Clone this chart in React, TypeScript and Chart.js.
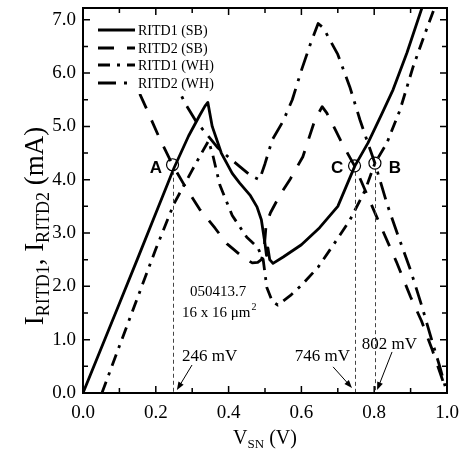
import React, { useEffect, useRef } from "react";
import { Chart, registerables } from "chart.js";
Chart.register(...registerables);

const SERIF = "'Liberation Serif', 'Times New Roman', serif";
const SANS = "'Liberation Sans', Arial, sans-serif";

// ---- data ----
const seriesNames = ["RITD1 (SB)", "RITD2 (SB)", "RITD1 (WH)", "RITD2 (WH)"];

const ritd1SB_V = [0, 0.05, 0.1, 0.15, 0.2, 0.25, 0.29, 0.32, 0.335, 0.343, 0.355, 0.38, 0.41, 0.43, 0.46, 0.478, 0.49, 0.5, 0.504, 0.508, 0.513, 0.522, 0.55, 0.6, 0.65, 0.7, 0.747, 0.783, 0.82, 0.852, 0.89, 0.935];
const ritd1SB_I = [0, 0.84, 1.68, 2.52, 3.37, 4.22, 4.82, 5.2, 5.38, 5.45, 5.0, 4.5, 4.12, 3.94, 3.7, 3.49, 3.25, 2.8, 2.58, 2.72, 2.5, 2.43, 2.55, 2.78, 3.1, 3.5, 4.26, 4.69, 5.22, 5.69, 6.38, 7.3];

const ritd2SB_V = [0.09, 0.13, 0.17, 0.212, 0.246, 0.28, 0.32, 0.363, 0.395, 0.43, 0.45, 0.465, 0.48, 0.49, 0.497, 0.503, 0.515, 0.54, 0.57, 0.604, 0.637, 0.657, 0.67, 0.69, 0.711, 0.746, 0.786, 0.825, 0.861, 0.9, 0.93, 0.96, 0.985, 1.0];
const ritd2SB_I = [6.6, 6.0, 5.4, 4.75, 4.28, 3.88, 3.45, 3.09, 2.8, 2.6, 2.5, 2.44, 2.45, 2.5, 2.65, 3.15, 3.38, 3.7, 4.02, 4.43, 5.12, 5.37, 5.25, 4.98, 4.69, 4.26, 3.63, 3.02, 2.46, 1.8, 1.35, 0.8, 0.3, 0];

const ritd1WH_V = [0.052, 0.1, 0.15, 0.2, 0.25, 0.3, 0.33, 0.345, 0.357, 0.376, 0.41, 0.45, 0.48, 0.495, 0.505, 0.52, 0.535, 0.57, 0.6, 0.646, 0.7, 0.733, 0.775, 0.802, 0.835, 0.871, 0.907, 0.94, 0.97];
const ritd1WH_I = [0, 0.88, 1.79, 2.7, 3.55, 4.18, 4.55, 4.73, 4.45, 3.9, 3.33, 2.92, 2.73, 2.5, 1.98, 1.72, 1.65, 1.83, 2.02, 2.36, 2.9, 3.24, 3.8, 4.31, 4.69, 5.31, 6.12, 6.75, 7.3];

const ritd2WH_V = [0.24, 0.28, 0.31, 0.34, 0.37, 0.4, 0.43, 0.46, 0.485, 0.5, 0.52, 0.55, 0.575, 0.6, 0.625, 0.646, 0.66, 0.7, 0.733, 0.761, 0.78, 0.802, 0.835, 0.863, 0.9, 0.93, 0.96, 0.98, 1.0];
const ritd2WH_I = [6.0, 5.44, 5.1, 4.85, 4.6, 4.42, 4.25, 4.08, 4.0, 4.3, 4.75, 5.1, 5.5, 6.05, 6.55, 6.93, 6.85, 6.35, 5.74, 5.12, 4.74, 4.31, 3.55, 3.0, 2.3, 1.65, 0.95, 0.5, 0];

const markerLabels = ["A", "C", "B"];
const markerV = [0.246, 0.746, 0.802];
const markerI = [4.28, 4.26, 4.31];
const markerTexts = ["246 mV", "746 mV", "802 mV"];
const sampleTexts = ["050413.7", "16 x 16 \u03BCm"];

const xMin = 0, xMax = 1, xStep = 0.2, xMinor = 0.1;
const yMin = 0, yMax = 7.22, yStep = 1, yMinor = 0.5;

const dashes: number[][] = [[], [16, 13], [12, 7, 3, 7], [18, 8, 3, 8]];

const pairs = (v: number[], i: number[]) => v.map((x, k) => ({ x, y: i[k] }));

type Part = { t: string; s: number; dy: number };
function richWidth(ctx: CanvasRenderingContext2D, parts: Part[]) {
  let w = 0;
  for (const p of parts) { ctx.font = `${p.s}px ${SERIF}`; w += ctx.measureText(p.t).width; }
  return w;
}
function drawRich(ctx: CanvasRenderingContext2D, parts: Part[], cx: number, by: number) {
  let x = cx - richWidth(ctx, parts) / 2;
  ctx.textAlign = "left";
  ctx.textBaseline = "alphabetic";
  for (const p of parts) {
    ctx.font = `${p.s}px ${SERIF}`;
    ctx.fillText(p.t, x, by + p.dy);
    x += ctx.measureText(p.t).width;
  }
}
function arrow(ctx: CanvasRenderingContext2D, x1: number, y1: number, x2: number, y2: number) {
  const ang = Math.atan2(y2 - y1, x2 - x1);
  const L = 8, W = 3;
  ctx.beginPath();
  ctx.moveTo(x1, y1);
  ctx.lineTo(x2 - Math.cos(ang) * L * 0.8, y2 - Math.sin(ang) * L * 0.8);
  ctx.stroke();
  ctx.beginPath();
  ctx.moveTo(x2, y2);
  ctx.lineTo(x2 - Math.cos(ang) * L + Math.sin(ang) * W, y2 - Math.sin(ang) * L - Math.cos(ang) * W);
  ctx.lineTo(x2 - Math.cos(ang) * L - Math.sin(ang) * W, y2 - Math.sin(ang) * L + Math.cos(ang) * W);
  ctx.closePath();
  ctx.fill();
}

const overlay = {
  id: "overlay",
  afterDraw(chart: any) {
    const { ctx, chartArea: a, scales } = chart;
    const X = (v: number) => scales.x.getPixelForValue(v);
    const Y = (v: number) => scales.y.getPixelForValue(v);
    ctx.save();
    ctx.fillStyle = "#000";
    ctx.strokeStyle = "#000";

    // vertical dashed guide lines
    ctx.strokeStyle = "#444";
    ctx.lineWidth = 1;
    ctx.setLineDash([4, 3]);
    markerV.forEach((v, k) => {
      const px = Math.round(X(v)) + 0.5;
      ctx.beginPath();
      ctx.moveTo(px, Y(markerI[k]) + 6);
      ctx.lineTo(px, a.bottom);
      ctx.stroke();
    });
    ctx.setLineDash([]);

    // circles
    ctx.strokeStyle = "#000";
    ctx.lineWidth = 1.2;
    markerV.forEach((v, k) => {
      ctx.beginPath();
      ctx.arc(X(v), Y(markerI[k]), 6, 0, Math.PI * 2);
      ctx.stroke();
    });

    // letters
    ctx.font = `bold 17px ${SANS}`;
    ctx.textAlign = "center";
    ctx.textBaseline = "middle";
    const letterPos = [[0.2005, 4.22], [0.698, 4.22], [0.857, 4.22]];
    markerLabels.forEach((l, k) => ctx.fillText(l, X(letterPos[k][0]), Y(letterPos[k][1])));

    // mV annotations
    ctx.font = `17px ${SERIF}`;
    ctx.textAlign = "left";
    ctx.textBaseline = "alphabetic";
    const textPos = [[0.272, 0.6], [0.582, 0.6], [0.766, 0.825]];
    markerTexts.forEach((t, k) => ctx.fillText(t, X(textPos[k][0]), Y(textPos[k][1])));
    ctx.lineWidth = 1;
    const arrows = [[0.2995, 0.525, 0.258, 0.056], [0.687, 0.49, 0.739, 0.094], [0.849, 0.77, 0.808, 0.056]];
    arrows.forEach((r) => arrow(ctx, X(r[0]), Y(r[1]), X(r[2]), Y(r[3])));

    // sample info
    ctx.font = `15px ${SERIF}`;
    ctx.fillText(sampleTexts[0], X(0.294), Y(1.82));
    ctx.fillText(sampleTexts[1], X(0.272), Y(1.43));
    const w2 = ctx.measureText(sampleTexts[1]).width;
    ctx.font = `10px ${SERIF}`;
    ctx.fillText("2", X(0.272) + w2 + 1, Y(1.43) - 7);

    // legend
    ctx.fillStyle = "#fff";
    ctx.fillRect(88, 14, 128, 80);
    ctx.fillStyle = "#000";
    const rows = [30, 48, 65, 83];
    seriesNames.forEach((n, k) => {
      ctx.setLineDash(dashes[k]);
      ctx.lineWidth = 3;
      ctx.lineCap = "butt";
      ctx.beginPath();
      ctx.moveTo(98, rows[k]);
      ctx.lineTo(135, rows[k]);
      ctx.stroke();
      ctx.setLineDash([]);
      ctx.font = `14px ${SERIF}`;
      ctx.textBaseline = "middle";
      ctx.fillText(n, 138, rows[k] + 1);
    });

    // frame
    ctx.lineWidth = 2;
    ctx.strokeRect(a.left, a.top, a.right - a.left, a.bottom - a.top);

    // inward ticks
    ctx.lineWidth = 1.5;
    for (let v = xMin; v <= xMax + 1e-9; v += xMinor) {
      const major = Math.abs(v / xStep - Math.round(v / xStep)) < 1e-6;
      const len = major ? 7 : 5;
      const px = X(v);
      ctx.beginPath();
      ctx.moveTo(px, a.bottom); ctx.lineTo(px, a.bottom - len);
      ctx.moveTo(px, a.top); ctx.lineTo(px, a.top + len);
      ctx.stroke();
    }
    for (let v = yMin; v <= yMax + 1e-9; v += yMinor) {
      const major = Math.abs(v / yStep - Math.round(v / yStep)) < 1e-6;
      const len = major ? 7 : 5;
      const py = Y(v);
      ctx.beginPath();
      ctx.moveTo(a.left, py); ctx.lineTo(a.left + len, py);
      ctx.moveTo(a.right, py); ctx.lineTo(a.right - len, py);
      ctx.stroke();
    }

    // axis titles
    drawRich(ctx, [{ t: "V", s: 20, dy: 0 }, { t: "SN", s: 13, dy: 4 }, { t: " (V)", s: 20, dy: 0 }], 265, 444);
    ctx.save();
    ctx.translate(43, 226);
    ctx.rotate(-Math.PI / 2);
    drawRich(ctx, [
      { t: "I", s: 27, dy: 0 }, { t: "RITD1", s: 18, dy: 6 }, { t: ", ", s: 27, dy: 0 },
      { t: "I", s: 27, dy: 0 }, { t: "RITD2", s: 18, dy: 6 }, { t: " (mA)", s: 27, dy: 0 },
    ], 0, 0);
    ctx.restore();

    ctx.restore();
  },
};

export default function App() {
  const ref = useRef<HTMLCanvasElement>(null);
  useEffect(() => {
    if (!ref.current) return;
    const series = [
      pairs(ritd1SB_V, ritd1SB_I),
      pairs(ritd2SB_V, ritd2SB_I),
      pairs(ritd1WH_V, ritd1WH_I),
      pairs(ritd2WH_V, ritd2WH_I),
    ];
    const tickFont = { family: SERIF, size: 19 };
    const chart = new Chart(ref.current, {
      type: "line",
      data: {
        datasets: series.map((d, k) => ({
          label: seriesNames[k],
          data: d,
          borderColor: "#000",
          borderWidth: 2.8,
          borderDash: dashes[k],
          borderCapStyle: "butt",
          borderJoinStyle: "round",
          pointRadius: 0,
          tension: 0,
          fill: false,
        })),
      },
      options: {
        animation: false,
        responsive: false,
        parsing: false,
        layout: { padding: { left: 0, right: 19, top: 8, bottom: 0 } },
        plugins: { legend: { display: false }, tooltip: { enabled: false } },
        scales: {
          x: {
            type: "linear", min: xMin, max: xMax,
            ticks: { stepSize: xStep, includeBounds: false, autoSkip: false, maxRotation: 0, padding: 9, color: "#000", font: tickFont, callback: (v: any) => Number(v).toFixed(1) },
            grid: { display: false, drawTicks: false },
            border: { display: false },
            afterFit: (s: any) => { s.height = 67; s.paddingLeft = 0; s.paddingRight = 0; },
          },
          y: {
            type: "linear", min: yMin, max: yMax,
            ticks: { stepSize: yStep, includeBounds: false, autoSkip: false, padding: 7, color: "#000", font: tickFont, callback: (v: any) => Number(v).toFixed(1) },
            grid: { display: false, drawTicks: false },
            border: { display: false },
            afterFit: (s: any) => { s.width = 83; s.paddingTop = 0; s.paddingBottom = 0; },
          },
        },
      } as any,
      plugins: [overlay],
    });
    return () => chart.destroy();
  }, []);
  return (
    <div style={{ position: "fixed", left: 0, top: 0, width: 466, height: 460, background: "#fff" }}>
      <canvas ref={ref} width={466} height={460} style={{ width: 466, height: 460, display: "block" }} />
    </div>
  );
}
